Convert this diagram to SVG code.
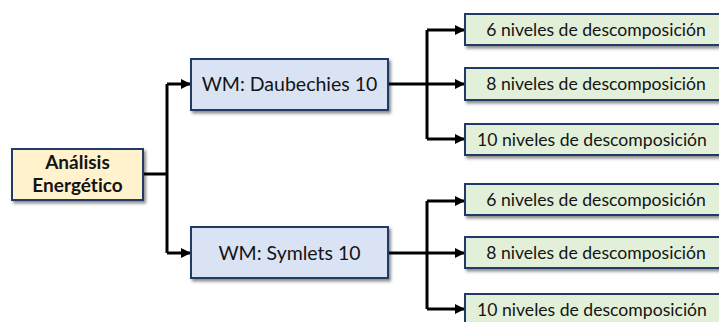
<svg xmlns="http://www.w3.org/2000/svg" width="719" height="322" viewBox="0 0 719 322">
  <defs>
    <filter id="shadow" x="-10%" y="-20%" width="130%" height="150%">
      <feDropShadow dx="2" dy="2.5" stdDeviation="1.6" flood-color="#000" flood-opacity="0.45"/>
    </filter>
    <marker id="arrow" viewBox="0 0 10 10" refX="10" refY="5" markerWidth="10" markerHeight="10" markerUnits="userSpaceOnUse" orient="auto">
      <path d="M0,0 L10,5 L0,10 Z" fill="#000"/>
    </marker>
  </defs>
  <style>
    .box { stroke: #243a66; stroke-width: 2; filter: url(#shadow); }
    .root { fill: #fff2cc; }
    .wavelet { fill: #dae3f3; }
    .level { fill: #e2f0d9; }
    .lbl { font-family: "Lato", "Liberation Sans", sans-serif; fill: #141414; text-anchor: middle; font-variant-ligatures: none; font-feature-settings: "liga" 0, "dlig" 0; }
    .root-lbl { font-size: 19px; font-weight: bold; }
    .wavelet-lbl { font-size: 19.5px; }
    .level-lbl { font-size: 17.6px; }
    .conn { fill: none; stroke: #000; stroke-width: 3; }
    .conn-arrow { marker-end: url(#arrow); }
  </style>

  <g id="connectors">
    <!-- root to wavelet families -->
    <path class="conn" d="M143,174 H167"/>
    <path class="conn" d="M167,84 V253"/>
    <path class="conn conn-arrow" d="M167,84 H191"/>
    <path class="conn conn-arrow" d="M167,253 H191"/>
    <!-- Daubechies to levels -->
    <path class="conn conn-arrow" d="M388,84 H465"/>
    <path class="conn" d="M427,30 V139"/>
    <path class="conn conn-arrow" d="M427,30 H465"/>
    <path class="conn conn-arrow" d="M427,139 H465"/>
    <!-- Symlets to levels -->
    <path class="conn conn-arrow" d="M388,253 H465"/>
    <path class="conn" d="M427,201 V309"/>
    <path class="conn conn-arrow" d="M427,201 H465"/>
    <path class="conn conn-arrow" d="M427,309 H465"/>
  </g>

  <g id="analisis">
    <rect class="box root" x="12" y="149" width="131" height="51"/>
    <text class="lbl root-lbl" x="77.5" y="169">Análisis</text>
    <text class="lbl root-lbl" x="77.5" y="192">Energético</text>
  </g>

  <g id="daubechies">
    <rect class="box wavelet" x="191" y="59" width="197" height="51"/>
    <text class="lbl wavelet-lbl" x="289.5" y="91">WM: Daubechies 10</text>
  </g>

  <g id="symlets">
    <rect class="box wavelet" x="191" y="227" width="197" height="51"/>
    <text class="lbl wavelet-lbl" x="289.5" y="260">WM: Symlets 10</text>
  </g>

  <g id="db-6">
    <rect class="box level" x="465" y="14" width="262" height="31"/>
    <text class="lbl level-lbl" x="596" y="36">6 niveles de descomposición</text>
  </g>
  <g id="db-8">
    <rect class="box level" x="465" y="68" width="262" height="32"/>
    <text class="lbl level-lbl" x="596" y="90">8 niveles de descomposición</text>
  </g>
  <g id="db-10">
    <rect class="box level" x="465" y="124" width="262" height="31"/>
    <text class="lbl level-lbl" x="592" y="146">10 niveles de descomposición</text>
  </g>

  <g id="sym-6">
    <rect class="box level" x="465" y="184" width="262" height="31"/>
    <text class="lbl level-lbl" x="596" y="206">6 niveles de descomposición</text>
  </g>
  <g id="sym-8">
    <rect class="box level" x="465" y="237" width="262" height="31"/>
    <text class="lbl level-lbl" x="596" y="259">8 niveles de descomposición</text>
  </g>
  <g id="sym-10">
    <rect class="box level" x="465" y="294" width="262" height="31"/>
    <text class="lbl level-lbl" x="592" y="316">10 niveles de descomposición</text>
  </g>
</svg>
